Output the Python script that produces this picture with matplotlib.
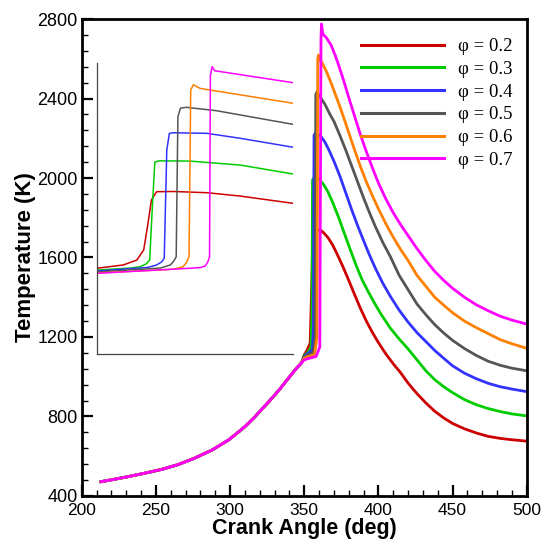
import matplotlib
matplotlib.use("Agg")
import matplotlib.pyplot as plt
from matplotlib.ticker import MultipleLocator

# shared compression stroke (all mixtures overlap here)
comp_deg = [213, 222, 231, 242, 254, 265, 276, 288, 299, 305, 310, 316, 321, 327, 333, 338,
            342, 345, 348]
comp_T = [472, 484, 497, 514, 534, 558, 590, 632, 682, 718, 749, 793, 833, 882, 933, 980,
          1017, 1045, 1068]

# ignition + expansion part of each curve
deg_02 = [350, 352, 354, 355, 355.8, 357, 361, 363, 366, 369, 372, 376, 380, 384, 388, 392,
          396, 400, 405, 410, 415, 420, 426, 432, 438, 444, 450, 458, 466, 474, 482, 490, 500]
T_02 = [1110, 1135, 1170, 1450, 1700, 1736, 1738, 1725, 1700, 1665, 1620, 1555, 1485, 1412,
        1342, 1278, 1222, 1172, 1115, 1065, 1020, 968, 915, 868, 826, 793, 765, 738, 717,
        700, 690, 683, 676]

deg_03 = [350, 352, 354.5, 355.2, 355.6, 356.5, 360, 363, 366, 369, 373, 377, 381, 385, 389,
          393, 397, 402, 408, 414, 420, 426, 432, 438, 444, 450, 458, 466, 474, 482, 490, 500]
T_03 = [1105, 1120, 1145, 1300, 1990, 2000, 1993, 1968, 1930, 1880, 1805, 1722, 1640, 1560,
        1488, 1430, 1375, 1312, 1245, 1190, 1140, 1085, 1030, 985, 950, 920, 885, 859, 840,
        825, 813, 803]

deg_04 = [350, 352, 355.5, 356.2, 356.6, 357.5, 361, 364, 367, 370, 374, 378, 382, 386, 390,
          394, 398, 403, 408, 414, 420, 426, 432, 438, 444, 450, 458, 466, 474, 482, 490, 500]
T_04 = [1100, 1115, 1135, 1250, 2215, 2226, 2212, 2180, 2135, 2085, 2010, 1925, 1840, 1760,
        1685, 1612, 1545, 1470, 1405, 1335, 1275, 1222, 1177, 1132, 1093, 1055, 1018, 990,
        967, 950, 938, 925]

deg_05 = [350, 352, 356, 357.3, 357.8, 358.6, 361, 364, 367, 370, 374, 378, 382, 386, 390, 394,
          398, 403, 408, 414, 420, 426, 432, 438, 444, 450, 458, 466, 474, 482, 490, 500]
T_05 = [1097, 1108, 1122, 1200, 2420, 2434, 2405, 2370, 2325, 2285, 2215, 2140, 2060, 1980,
        1900, 1825, 1755, 1675, 1605, 1510, 1438, 1366, 1312, 1262, 1220, 1183, 1142, 1107,
        1078, 1058, 1043, 1030]

deg_06 = [350, 352, 357, 358.6, 359.1, 359.6, 360.3, 362, 365, 368, 371, 374, 377, 380, 384,
          388, 392, 396, 400, 405, 410, 415, 420, 426, 432, 438, 444, 450, 458, 466, 474, 482,
          490, 500]
T_06 = [1093, 1100, 1112, 1200, 2600, 2619, 2595, 2580, 2535, 2480, 2420, 2360, 2295, 2228,
        2140, 2055, 1978, 1910, 1845, 1770, 1702, 1640, 1585, 1510, 1455, 1400, 1360, 1322,
        1280, 1247, 1217, 1187, 1166, 1143]

deg_07 = [350, 352, 358, 360.5, 361.3, 361.6, 362.5, 365, 368, 371, 374, 377, 380, 384, 388,
          392, 396, 400, 405, 410, 415, 420, 426, 432, 438, 444, 450, 458, 466, 474, 482, 490,
          500]
T_07 = [1085, 1090, 1102, 1150, 2700, 2775, 2725, 2705, 2670, 2615, 2550, 2480, 2405, 2310,
        2215, 2130, 2050, 1975, 1895, 1825, 1765, 1710, 1645, 1585, 1530, 1485, 1445, 1400,
        1362, 1332, 1305, 1285, 1265]

# inset (zoom on the ignition event)
in_deg_02 = [349, 352.1, 353.7, 354.5, 355.0, 355.4, 356.0, 358, 361.9, 365.8, 372]
in_T_02 = [1108, 1135, 1176, 1259, 1479, 1671, 1740, 1742, 1732, 1704, 1644]
in_deg_03 = [349, 353, 354.1, 354.8, 355.2, 355.5, 355.8, 356.3, 359.9, 365.8, 372]
in_T_03 = [1093, 1110, 1121, 1145, 1176, 1600, 1985, 1995, 1993, 1960, 1886]
in_deg_04 = [349, 355, 356.0, 356.6, 356.9, 357.2, 357.5, 358, 361.9, 365.8, 372]
in_T_04 = [1085, 1115, 1135, 1160, 1190, 2084, 2222, 2227, 2222, 2181, 2107]
in_deg_05 = [349, 356.5, 357.6, 358.0, 358.3, 358.5, 358.8, 359.5, 363.0, 372]
in_T_05 = [1077, 1110, 1135, 1165, 1203, 2359, 2430, 2437, 2409, 2296]
in_deg_06 = [349, 358, 359.1, 359.5, 359.8, 360.0, 360.3, 361.1, 372]
in_T_06 = [1069, 1100, 1121, 1155, 1203, 2580, 2623, 2593, 2470]
in_deg_07 = [349, 359.9, 361.2, 361.7, 362.0, 362.2, 362.3, 362.5, 362.8, 372]
in_T_07 = [1066, 1108, 1115, 1127, 1160, 1203, 2700, 2772, 2739, 2640]

labels = ["φ = 0.2", "φ = 0.3", "φ = 0.4", "φ = 0.5", "φ = 0.6", "φ = 0.7"]
colors = ["#cc0000", "#00cc00", "#3333ff", "#555555", "#ff8000", "#ff00ff"]

main_deg = [deg_02, deg_03, deg_04, deg_05, deg_06, deg_07]
main_T = [T_02, T_03, T_04, T_05, T_06, T_07]
inset_deg = [in_deg_02, in_deg_03, in_deg_04, in_deg_05, in_deg_06, in_deg_07]
inset_T = [in_T_02, in_T_03, in_T_04, in_T_05, in_T_06, in_T_07]

plt.rcParams['font.family'] = ['Liberation Sans', 'DejaVu Sans']

fig = plt.figure(figsize=(5.45, 5.4), dpi=100)
ax = fig.add_axes([0.150, 0.0815, 0.8165, 0.8833])

for d, t, c, lab in zip(main_deg, main_T, colors, labels):
    ax.plot(comp_deg + d, comp_T + t, color=c, lw=2.0, label=lab,
            solid_joinstyle='round')

ax.set_xlim(200, 500)
ax.set_ylim(400, 2800)
ax.xaxis.set_major_locator(MultipleLocator(50))
ax.xaxis.set_minor_locator(MultipleLocator(10))
ax.yaxis.set_major_locator(MultipleLocator(400))
ax.yaxis.set_minor_locator(MultipleLocator(80))
ax.tick_params(which='both', direction='in', top=False, right=False,
               labelsize=13, colors='black')
ax.tick_params(which='major', length=8, width=1.6)
ax.tick_params(which='minor', length=4.5, width=1.0)
ax.tick_params(axis='x', pad=5, labelsize=12.5)
ax.tick_params(axis='y', pad=3)
for sp in ax.spines.values():
    sp.set_linewidth(2.0)

ax.set_xlabel("Crank Angle (deg)", fontsize=15.5, fontweight='bold')
ax.set_ylabel("Temperature (K)", fontsize=16, fontweight='bold')
ax.xaxis.set_label_coords(0.5, -0.046)
ax.yaxis.set_label_coords(-0.103, 0.5)

leg = ax.legend(loc='upper left', bbox_to_anchor=(0.628, 0.960), frameon=False,
                prop={'family': 'Liberation Serif', 'size': 13.5},
                handlelength=4.43, handletextpad=0.75, labelspacing=0.3,
                borderpad=0, borderaxespad=0)
for h in leg.get_lines():
    h.set_linewidth(2.2)

# inset
axin = fig.add_axes([0.1774, 0.3444, 0.3608, 0.5383], facecolor='none')
for d, t, c in zip(inset_deg, inset_T, colors):
    axin.plot(d, t, color=c, lw=1.1)
axin.set_xlim(349, 372)
axin.set_ylim(400, 2800)
axin.set_xticks([])
axin.set_yticks([])
axin.spines['top'].set_visible(False)
axin.spines['right'].set_visible(False)
for s in ('left', 'bottom'):
    axin.spines[s].set_color('#444444')
    axin.spines[s].set_linewidth(0.9)

fig.savefig("out.png", dpi=100)
